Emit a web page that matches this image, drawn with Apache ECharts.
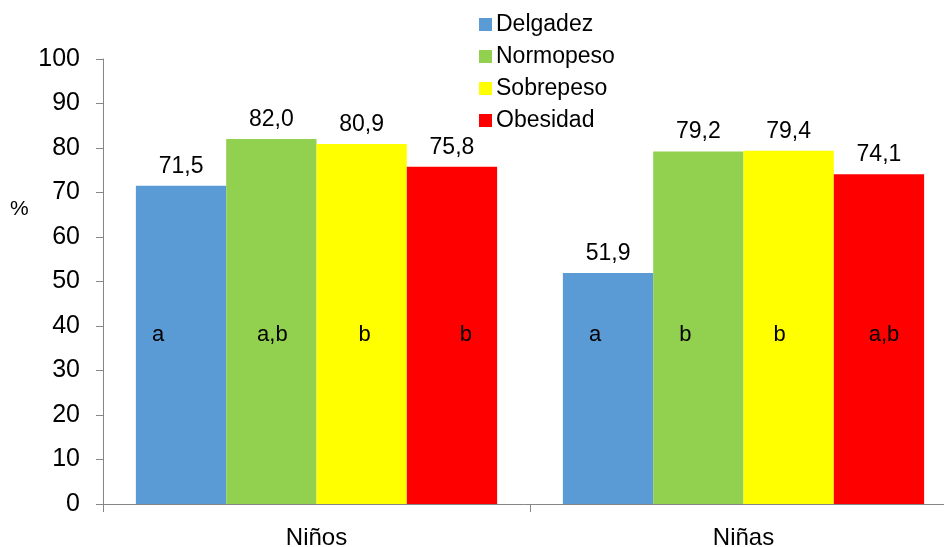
<!DOCTYPE html>
<html>
<head>
<meta charset="utf-8">
<script src="https://cdn.jsdelivr.net/npm/echarts@6/dist/echarts.min.js"></script>
<style>
html,body{margin:0;padding:0;background:#fff;}
#chart{width:944px;height:547px;}
</style>
</head>
<body>
<div id="chart"></div>
<script>
const categories = ['Niños', 'Niñas'];
const seriesNames = ['Delgadez', 'Normopeso', 'Sobrepeso', 'Obesidad'];
const delgadez = [71.5, 51.9];
const normopeso = [82.0, 79.2];
const sobrepeso = [80.9, 79.4];
const obesidad = [75.8, 74.1];
const letters = [['a', 'a'], ['a,b', 'b'], ['b', 'b'], ['b', 'a,b']];
const yTicks = [0, 10, 20, 30, 40, 50, 60, 70, 80, 90, 100];

const values = [delgadez, normopeso, sobrepeso, obesidad];
const colors = ['#5B9BD5', '#92D050', '#FFFF00', '#FF0000'];
// horizontal nudges for the significance letters (style only)
const letterNudge = [[-23, -13], [1, -13], [3, -9], [14, 5]];
const FONT = '"Liberation Sans", Arial, sans-serif';

const series = [];
seriesNames.forEach((name, i) => {
  series.push({
    name: name,
    type: 'bar',
    stack: 's' + i,
    barGap: 0,
    barCategoryGap: '15.4%',
    itemStyle: { color: colors[i] },
    data: categories.map((c, j) => ({
      value: 0,
      label: { offset: [letterNudge[i][j], 0] }
    })),
    label: {
      show: true,
      position: 'top',
      distance: 158,
      color: '#000',
      fontFamily: FONT,
      fontSize: 22,
      formatter: p => letters[i][p.dataIndex]
    },
    silent: true
  });
  series.push({
    name: name,
    type: 'bar',
    stack: 's' + i,
    barGap: 0,
    barCategoryGap: '15.4%',
    itemStyle: { color: colors[i] },
    data: values[i],
    label: {
      show: true,
      position: 'top',
      distance: 8,
      color: '#000',
      fontFamily: FONT,
      fontSize: 23,
      formatter: p => values[i][p.dataIndex].toFixed(1).replace('.', ',')
    }
  });
});

const chart = echarts.init(document.getElementById('chart'));
chart.setOption({
  animation: false,
  backgroundColor: '#fff',
  title: {
    text: '%',
    left: 5,
    top: 194,
    textStyle: { fontFamily: FONT, fontSize: 21, color: '#000', fontWeight: 'normal' }
  },
  grid: { left: 103, width: 854, top: 59, bottom: 43, containLabel: false, outerBoundsMode: 'none' },
  legend: {
    data: seriesNames,
    orient: 'vertical',
    left: 474,
    top: 8,
    itemWidth: 13,
    itemHeight: 13,
    itemGap: 9,
    icon: 'rect',
    textStyle: { fontFamily: FONT, fontSize: 23, color: '#000', padding: [0, 0, 0, -1] }
  },
  xAxis: {
    type: 'category',
    data: categories,
    axisLine: { lineStyle: { color: '#868686', width: 1 } },
    axisTick: { show: true, length: 8, lineStyle: { color: '#868686' } },
    axisLabel: { fontFamily: FONT, fontSize: 24, color: '#000', margin: 22 }
  },
  yAxis: {
    type: 'value',
    min: yTicks[0],
    max: yTicks[yTicks.length - 1],
    interval: 10,
    axisLine: { show: true, lineStyle: { color: '#868686', width: 1 } },
    axisTick: { show: true, length: 7, lineStyle: { color: '#868686' } },
    splitLine: { show: false },
    axisLabel: { fontFamily: FONT, fontSize: 25, color: '#000', margin: 23 }
  },
  series: series
});
</script>
</body>
</html>
